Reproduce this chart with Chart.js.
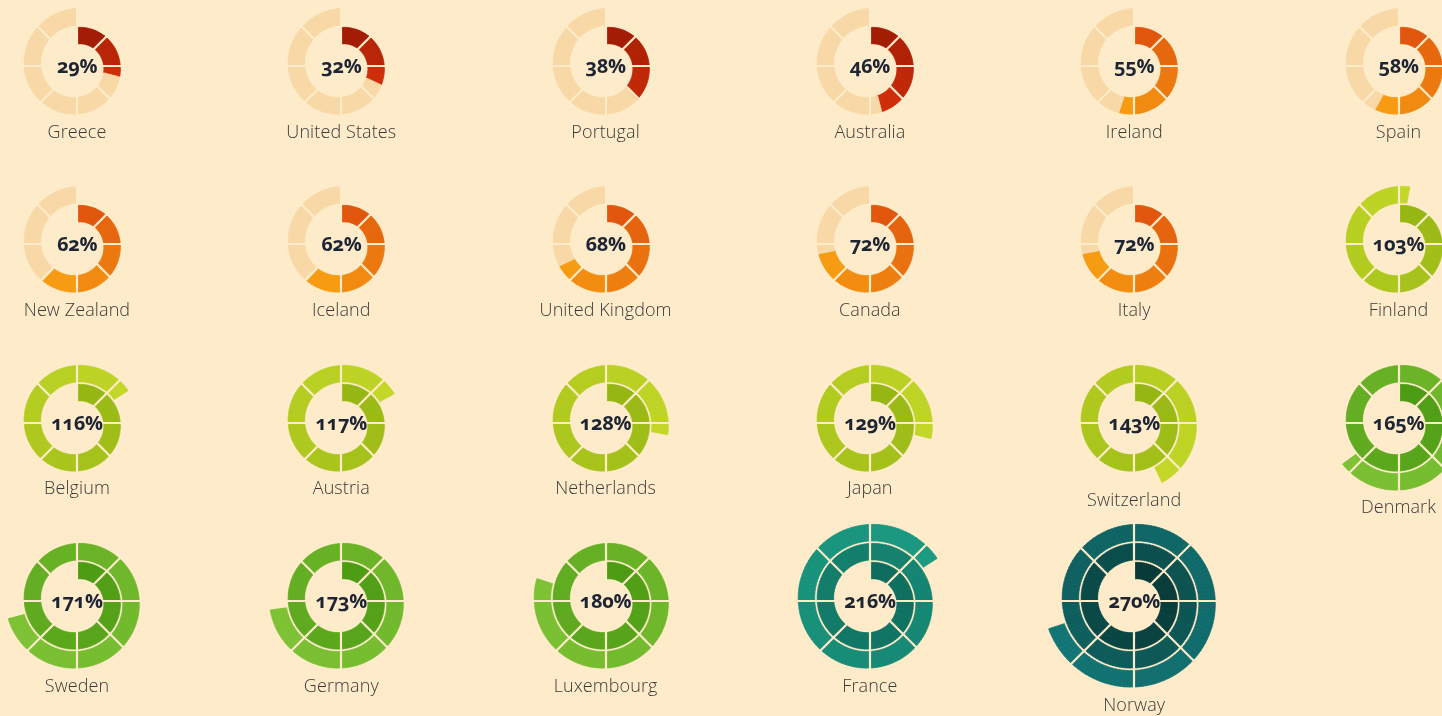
<!DOCTYPE html>
<html>
<head>
<meta charset="utf-8">
<script src="https://cdn.jsdelivr.net/npm/chart.js@4.4.1/dist/chart.umd.min.js"></script>
<style>
  html, body { margin:0; padding:0; }
  body { width:1442px; height:716px; overflow:hidden; position:relative; background:#fdebca; font-family:'Open Sans', 'Noto Sans', sans-serif; }
  .cell { position:absolute; width:200px; height:200px; }
  .cell canvas { position:absolute; left:0; top:0; }
  .pct { position:absolute; transform:translate(-50%,-50%); font-weight:700; font-size:20px; color:#1d2434; white-space:nowrap; font-variant-numeric:oldstyle-nums; font-feature-settings:"onum" 1; letter-spacing:-0.3px; }
  .lbl { position:absolute; transform:translate(-50%,-50%); font-weight:300; font-size:18px; color:#3a3a3a; white-space:nowrap; letter-spacing:0.1px; }
</style>
</head>
<body>
<script>
// ---------- DATA ----------
const countries = ['Greece','United States','Portugal','Australia','Ireland','Spain',
  'New Zealand','Iceland','United Kingdom','Canada','Italy','Finland',
  'Belgium','Austria','Netherlands','Japan','Switzerland','Denmark',
  'Sweden','Germany','Luxembourg','France','Norway'];
const values = [29, 32, 38, 46, 55, 58,
  62, 62, 68, 72, 72, 103,
  116, 117, 128, 129, 143, 165,
  171, 173, 180, 216, 270];
const valueLabels = values.map(v => v + '%');
const sectorLabels = ['0°','45°','90°','135°','180°','225°','270°','315°'];

// ---------- LAYOUT / STYLE CONSTANTS ----------
const PER_ROW = 6, X0 = 77, DX = 264.3, Y0 = 66, DY = 178.4;
const A_OUT = 38.5, PITCH = 19, BAND = 16.5;   // spiral geometry in radial-scale units (1 unit = 1px)
const BG = '#fdebca', TRACK = '#f7d8a6';
const SEG_DEG = 45, SUB = 15;

function palette(v) {
  if (v < 50) return ['#a21a02', '#cd2c08'];
  if (v < 100) return ['#e1540b', '#f69a10'];
  if (v < 150) return ['#95b612', '#c2d726'];
  if (v < 200) return ['#4b9b12', '#7dc234'];
  if (v < 250) return ['#0b6b5d', '#1b9a82'];
  return ['#053836', '#127575'];
}
function hex2rgb(h) { const n = parseInt(h.slice(1), 16); return [(n >> 16) & 255, (n >> 8) & 255, n & 255]; }
function mix(a, b, t) {
  const A = hex2rgb(a), B = hex2rgb(b);
  return 'rgb(' + A.map((x, i) => Math.round(x + (B[i] - x) * t)).join(',') + ')';
}

// ---------- custom controller: polar-area arcs whose inner radius also comes from the radial scale ----------
const PolarArea = Chart.registry.getController('polarArea');
class SpiralController extends PolarArea {
  updateElements(arcs, start, count, mode) {
    super.updateElements(arcs, start, count, mode);
    const scale = this._cachedMeta.rScale;
    const inner = this.getDataset().innerValues;
    for (let i = start; i < start + count; i++) {
      arcs[i].innerRadius = scale.getDistanceFromCenterForValue(inner[i]);
    }
  }
}
SpiralController.id = 'spiral';
Chart.register(SpiralController);

// Archimedean spiral: outer edge grows PITCH per full turn
function buildSpiral(v) {
  const endDeg = v / 100 * 360;
  const nSeg = Math.ceil(endDeg / SEG_DEG - 1e-9);
  const [c0, c1] = palette(v);
  const items = [];
  const pushRange = (from, to, col) => {
    const step = SEG_DEG / SUB;
    for (let a = from; a < to - 1e-9; a += step) {
      const ang = Math.min(step, to - a);
      const mid = a + ang / 2;
      items.push({ r: A_OUT + PITCH * mid / 360, ang, col });
    }
  };
  for (let i = 0; i < nSeg; i++) {
    const from = i * SEG_DEG, to = Math.min(endDeg, (i + 1) * SEG_DEG);
    pushRange(from, to, mix(c0, c1, nSeg > 1 ? i / (nSeg - 1) : 0));
  }
  if (v < 100) pushRange(endDeg, 360, TRACK);
  return items;
}
function lowestExtent(items) {
  let a = 0, best = 0;
  items.forEach(it => {
    const b = a + it.ang;
    let m = Math.max(-Math.cos(a * Math.PI / 180), -Math.cos(b * Math.PI / 180));
    for (let k = 180; k < 1440; k += 360) if (a <= k && b >= k) m = 1;
    best = Math.max(best, m * it.r);
    a = b;
  });
  return best;
}

countries.forEach((name, idx) => {
  const col = idx % PER_ROW, row = Math.floor(idx / PER_ROW);
  const cx = X0 + col * DX, cy = Y0 + row * DY;
  const items = buildSpiral(values[idx]);

  const cell = document.createElement('div');
  cell.className = 'cell';
  cell.style.left = (cx - 100) + 'px';
  cell.style.top = (cy - 100) + 'px';
  const cv = document.createElement('canvas');
  cv.width = 200; cv.height = 200;
  cell.appendChild(cv);
  document.body.appendChild(cell);

  new Chart(cv, {
    type: 'spiral',
    data: {
      labels: sectorLabels,
      datasets: [{
        data: items.map(it => it.r),
        innerValues: items.map(it => it.r - BAND),
        angle: items.map(it => it.ang),
        backgroundColor: items.map(it => it.col),
        borderColor: items.map(it => it.col),
        borderWidth: 0.8
      }]
    },
    options: {
      responsive: false,
      animation: false,
      events: [],
      layout: { padding: 0 },
      plugins: { legend: { display: false }, tooltip: { enabled: false } },
      scales: {
        r: {
          min: 0, max: 100, startAngle: 0,
          ticks: { display: false },
          pointLabels: { display: false },
          grid: { display: false, z: 1 },
          angleLines: { display: true, color: BG, lineWidth: 2.2 }
        }
      }
    }
  });

  const pct = document.createElement('div');
  pct.className = 'pct';
  pct.textContent = valueLabels[idx];
  pct.style.left = cx + 'px';
  pct.style.top = (cy - 1) + 'px';
  document.body.appendChild(pct);

  const lbl = document.createElement('div');
  lbl.className = 'lbl';
  lbl.textContent = name;
  lbl.style.left = cx + 'px';
  lbl.style.top = (cy + lowestExtent(items) + 16.5) + 'px';
  document.body.appendChild(lbl);
});
</script>
</body>
</html>
